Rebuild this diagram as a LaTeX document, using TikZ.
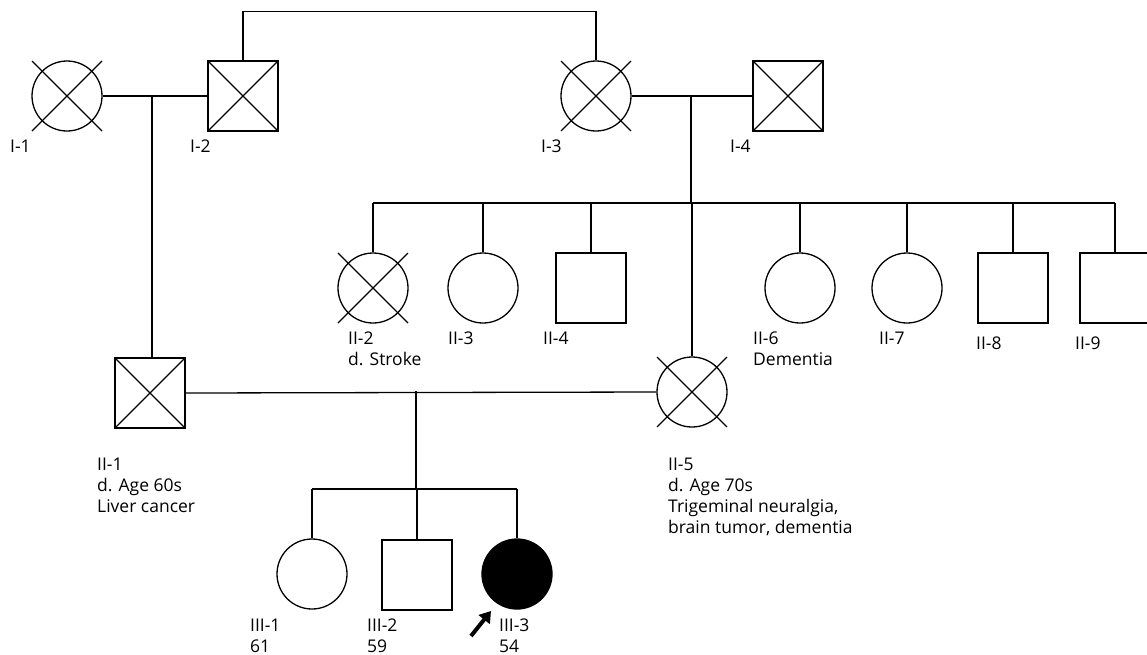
\documentclass[tikz,border=0pt]{standalone}
\usepackage{fontspec}
\setmainfont{Open Sans}
\usetikzlibrary{arrows.meta}
\tikzset{
  female/.style={draw, circle, minimum size=70pt, inner sep=0pt, line width=1.3pt},
  male/.style={draw, rectangle, minimum size=70pt, inner sep=0pt, line width=1.3pt},
  affected/.style={fill=black},
  lbl/.style={anchor=base west, inner sep=0pt, align=left,
    font=\fontsize{17.5}{21}\selectfont},
  ped/.style={line width=1.3pt}
}
% cross over a deceased individual
\newcommand{\dead}[1]{%
  \draw[line width=1.1pt] ([shift={(-35,-35)}]#1.center) -- ([shift={(35,35)}]#1.center)
    ([shift={(-35,35)}]#1.center) -- ([shift={(35,-35)}]#1.center);}

\begin{document}
\begin{tikzpicture}[x=1pt, y=-1pt]
  \useasboundingbox (0,0) rectangle (1147,654);

  % Generation I
  \node[female] (I1) at (67,96) {};
  \node[male]   (I2) at (243,96) {};
  \node[female] (I3) at (596,96) {};
  \node[male]   (I4) at (788,96) {};
  \foreach \n in {I1,I2,I3,I4} {\dead{\n}}
  \node[lbl] at (10,152) {I-1};
  \node[lbl] at (190,152) {I-2};
  \node[lbl] at (541,152) {I-3};
  \node[lbl] at (730,152) {I-4};

  % Generation II (labels sit on the baseline of their last line)
  \node[male]   (II1) at (150,393) {};
  \node[female] (II2) at (373,288) {};
  \node[female] (II3) at (483,288) {};
  \node[male]   (II4) at (591,288) {};
  \node[female] (II5) at (692,392) {};
  \node[female] (II6) at (800,288) {};
  \node[female] (II7) at (907,288) {};
  \node[male]   (II8) at (1013,288) {};
  \node[male]   (II9) at (1115,288) {};
  \foreach \n in {II1,II2,II5} {\dead{\n}}
  \node[lbl] at (97,512) {II-1\\d. Age 60s\\Liver cancer};
  \node[lbl] at (348,365) {II-2\\d. Stroke};
  \node[lbl] at (448,344) {II-3};
  \node[lbl] at (543,344) {II-4};
  \node[lbl] at (668,533) {II-5\\d. Age 70s\\Trigeminal neuralgia,\\brain tumor, dementia};
  \node[lbl] at (753,365) {II-6\\Dementia};
  \node[lbl] at (879,344) {II-7};
  \node[lbl] at (976,349) {II-8};
  \node[lbl] at (1075,349) {II-9};

  % Generation III
  \node[female] (III1) at (312,574) {};
  \node[male]   (III2) at (417,575) {};
  \node[female, affected] (III3) at (517,574) {};
  \node[lbl] at (250,652) {III-1\\61};
  \node[lbl] at (367,652) {III-2\\59};
  \node[lbl] at (499,652) {III-3\\54};
  \coordinate (pb) at (471,636);
  \draw[line width=4pt, -{Triangle[length=11pt, width=14pt]}] (pb) -- ++(20,-25);

  % Lines of descent
  \coordinate (m1) at (152,96);
  \coordinate (m2) at (691,96);
  \coordinate (m3) at (416,391);
  \coordinate (s2) at (691,203);
  \coordinate (s3) at (416,489);
  \draw[ped] (I1) -- (I2);
  \draw[ped] (I3) -- (I4);
  \draw[ped] (I2.north) -- ++(0,-49) -| (I3.north);
  \draw[ped] (m1) -- (m1 |- II1.north);
  \draw[ped] (II1.east) -- (II5.west);
  \draw[ped] (m2) -- (s2);
  \draw[ped] (II2.north |- s2) -- (II9.north |- s2);
  \foreach \n in {II2,II3,II4,II5,II6,II7,II8,II9}
    \draw[ped] (\n.north) -- (\n.north |- s2);
  \draw[ped] (m3) -- (s3);
  \draw[ped] (III1.north |- s3) -- (III3.north |- s3);
  \foreach \n in {III1,III2,III3}
    \draw[ped] (\n.north) -- (\n.north |- s3);
\end{tikzpicture}
\end{document}
